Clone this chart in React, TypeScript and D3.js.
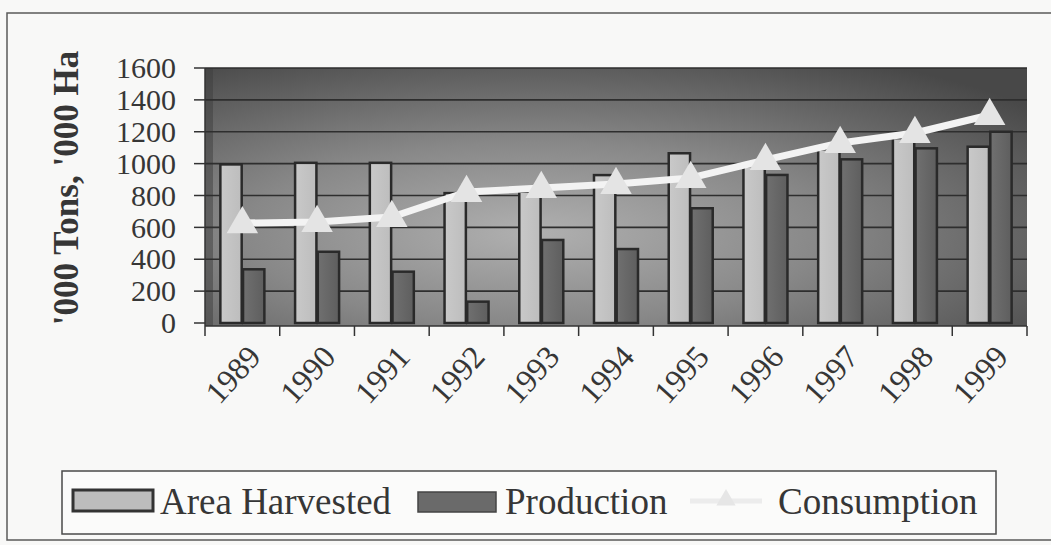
import React from "react";
import * as d3 from "d3";

const years = ["1989","1990","1991","1992","1993","1994","1995","1996","1997","1998","1999"];
const areaHarvested = [995, 1005, 1005, 815, 824, 928, 1065, 985, 1090, 1160, 1106];
const production = [337, 447, 322, 134, 521, 464, 720, 929, 1027, 1096, 1200];
const consumption = [627, 634, 665, 822, 847, 872, 910, 1023, 1130, 1192, 1305];
const yTicks = [0, 200, 400, 600, 800, 1000, 1200, 1400, 1600];
const seriesNames = ["Area Harvested", "Production", "Consumption"];
const yTitle = "'000 Tons, '000 Ha";

const W = 1051, H = 545;
const plot = { left: 205, right: 1027, top: 68, bottom: 323 };
const FONT = "'Liberation Serif', 'Times New Roman', serif";
const INK = "#363636";

export default function App() {
  const x = d3.scaleBand<string>().domain(years).range([plot.left, plot.right]).padding(0);
  const y = d3.scaleLinear().domain([0, 1600]).range([plot.bottom, plot.top]);
  const inner = d3.scaleBand<string>().domain(["a", "p"]).range([-22, 22]).paddingInner(0.06);
  const cx = (yr: string) => (x(yr) as number) + x.bandwidth() / 2;
  const line = d3.line<number>().x((_, i) => cx(years[i])).y((v) => y(v));
  const tri = d3.symbol().type(d3.symbolTriangle).size(430);

  return (
    <svg width={W} height={H} style={{ position: "absolute", left: 0, top: 0, background: "#f8f8f7" }}>
      <defs>
        <radialGradient id="bg" cx="40%" cy="64%" r="78%">
          <stop offset="0" stopColor="#b0b0b0" />
          <stop offset="0.45" stopColor="#888888" />
          <stop offset="1" stopColor="#484848" />
        </radialGradient>
        <linearGradient id="lightBar" x1="0" x2="1">
          <stop offset="0" stopColor="#c9c9c9" />
          <stop offset="1" stopColor="#bdbdbd" />
        </linearGradient>
        <linearGradient id="darkBar" x1="0" x2="1">
          <stop offset="0" stopColor="#707070" />
          <stop offset="1" stopColor="#5e5e5e" />
        </linearGradient>
      </defs>
      <rect x={0} y={0} width={W} height={H} fill="#f8f8f7" />
      {/* outer frame */}
      <rect x={7} y={13} width={1060} height={527} fill="none" stroke="#5a5a5a" strokeWidth={1.5} />

      {/* y title */}
      <text transform={`translate(78,188) rotate(-90)`} textAnchor="middle" fontFamily={FONT}
        fontWeight="bold" fontSize={35} fill={INK}>{yTitle}</text>

      {/* plot background */}
      <rect x={plot.left} y={plot.top} width={plot.right - plot.left} height={plot.bottom - plot.top + 3} fill="url(#bg)" />
      <rect x={plot.left} y={plot.top} width={8} height={plot.bottom - plot.top + 3} fill="#3e3e3e" opacity={0.5} />

      {/* gridlines */}
      {yTicks.filter((t) => t > 0).map((t) => (
        <line key={t} x1={plot.left} x2={plot.right} y1={y(t)} y2={y(t)} stroke="#2e2e2e" strokeWidth={1.6} />
      ))}

      {/* y axis */}
      <line x1={plot.left} x2={plot.left} y1={plot.top} y2={plot.bottom + 3} stroke="#333" strokeWidth={1.5} />
      {yTicks.map((t) => (
        <g key={t}>
          <line x1={194} x2={plot.left} y1={y(t)} y2={y(t)} stroke="#333" strokeWidth={1.5} />
          <text x={176} y={y(t)} dy="0.34em" textAnchor="end" fontFamily={FONT} fontSize={30} fill={INK}>{t}</text>
        </g>
      ))}

      {/* bars */}
      {years.map((yr, i) => (
        <g key={yr}>
          <rect x={cx(yr) + (inner("a") as number)} y={y(areaHarvested[i])} width={inner.bandwidth()}
            height={y(0) - y(areaHarvested[i])} fill="url(#lightBar)" stroke="#2a2a2a" strokeWidth={2.5} />
          <rect x={cx(yr) + (inner("p") as number)} y={y(production[i])} width={inner.bandwidth()}
            height={y(0) - y(production[i])} fill="url(#darkBar)" stroke="#2a2a2a" strokeWidth={2.5} />
        </g>
      ))}

      {/* x axis */}
      <line x1={plot.left} x2={plot.right} y1={plot.bottom + 3} y2={plot.bottom + 3} stroke="#333" strokeWidth={1.5} />
      {[...years.map((yr) => x(yr) as number), plot.right].map((px, i) => (
        <line key={i} x1={px} x2={px} y1={plot.bottom + 3} y2={plot.bottom + 13} stroke="#333" strokeWidth={1.5} />
      ))}
      {years.map((yr) => (
        <text key={yr} transform={`translate(${cx(yr) + 20},358) rotate(-48)`} textAnchor="end"
          fontFamily={FONT} fontSize={32} fill={INK}>{yr}</text>
      ))}

      {/* consumption line */}
      <path d={line(consumption) as string} fill="none" stroke="#f3f3f3" strokeWidth={7} strokeLinejoin="round" />
      {consumption.map((v, i) => (
        <path key={i} d={tri() as string} transform={`translate(${cx(years[i])},${y(v) + 1})`} fill="#e4e4e4" />
      ))}

      {/* legend */}
      <rect x={62} y={471} width={934} height={63} fill="#fbfbfa" stroke="#4a4a4a" strokeWidth={1.5} />
      <rect x={73} y={490} width={80} height={21} fill="#bdbdbd" stroke="#333" strokeWidth={3} />
      <text x={160} y={514} fontFamily={FONT} fontSize={37} fill={INK}>{seriesNames[0]}</text>
      <rect x={418} y={492} width={78} height={20} fill="#6a6a6a" stroke="#444" strokeWidth={1.5} />
      <text x={505} y={514} fontFamily={FONT} fontSize={37} fill={INK}>{seriesNames[1]}</text>
      <line x1={690} x2={762} y1={501} y2={501} stroke="#ececec" strokeWidth={5} />
      <path d={d3.symbol().type(d3.symbolTriangle).size(160)() as string} transform="translate(726,500)" fill="#e6e6e6" />
      <text x={778} y={514} fontFamily={FONT} fontSize={37} fill={INK}>{seriesNames[2]}</text>
    </svg>
  );
}
